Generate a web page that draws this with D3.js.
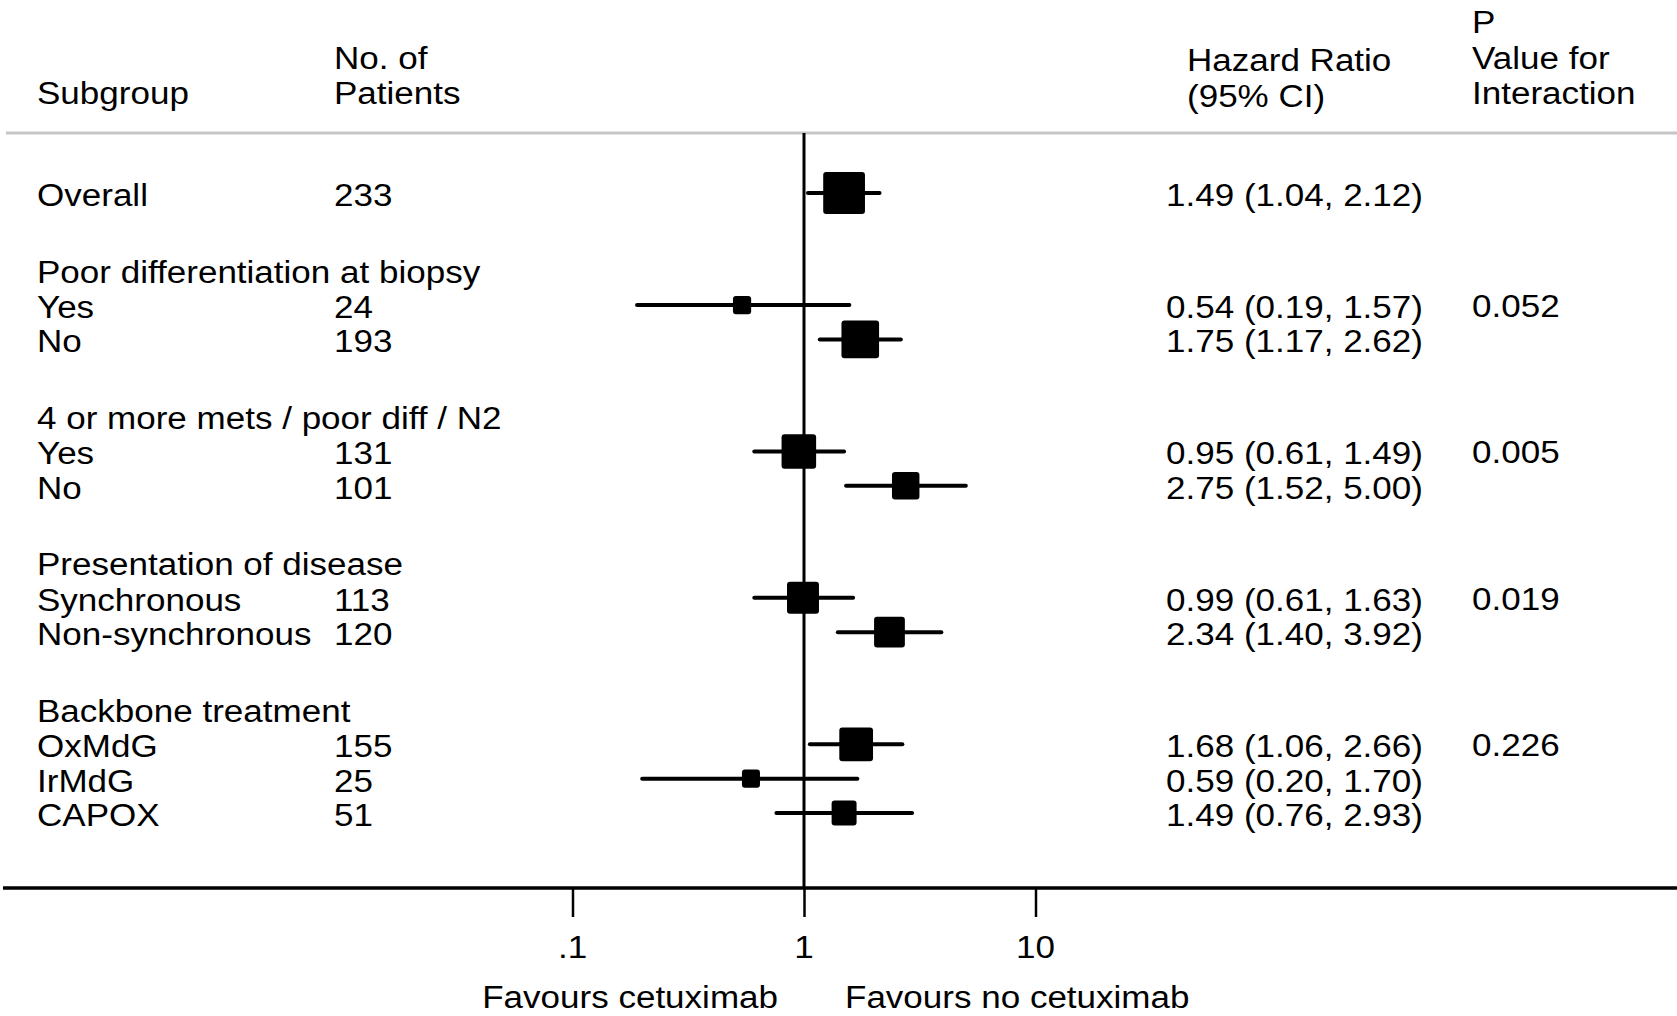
<!DOCTYPE html>
<html>
<head>
<meta charset="utf-8">
<script src="https://cdn.jsdelivr.net/npm/d3@7"></script>
<style>
  body { margin: 0; background: #fff; overflow: hidden; }
  svg { display: block; }
  svg text { font-family: "Liberation Sans", Arial, sans-serif; font-size: 31px; fill: #000; }
</style>
</head>
<body>
<svg id="chart"></svg>
<script>
// data
const groupNames = ['', 'Poor differentiation at biopsy', '4 or more mets / poor diff / N2', 'Presentation of disease', 'Backbone treatment'];
const groupP = ['', '0.052', '0.005', '0.019', '0.226'];
const subgroups = ['Overall', 'Yes', 'No', 'Yes', 'No', 'Synchronous', 'Non-synchronous', 'OxMdG', 'IrMdG', 'CAPOX'];
const groupOf = [0, 1, 1, 2, 2, 3, 3, 4, 4, 4];
const patients = [233, 24, 193, 131, 101, 113, 120, 155, 25, 51];
const hazardRatio = [1.49, 0.54, 1.75, 0.95, 2.75, 0.99, 2.34, 1.68, 0.59, 1.49];
const ciLower = [1.04, 0.19, 1.17, 0.61, 1.52, 0.61, 1.40, 1.06, 0.20, 0.76];
const ciUpper = [2.12, 1.57, 2.62, 1.49, 5.00, 1.63, 3.92, 2.66, 1.70, 2.93];
const xTicks = [0.1, 1, 10];
const xTickLabels = ['.1', '1', '10'];

const width = 1677, height = 1016;
const stretch = 1.13;   // glyphs in the original are a bit wider than tall
const col = {sub: 37, n: 334, hr: 1166, hrHead: 1187, p: 1472};

const svg = d3.select('#chart')
    .attr('width', width)
    .attr('height', height);

// row slots: one unit per row, a wider gap between groups
let u = 0;
const slots = [];
subgroups.forEach((s, i) => {
    if (i > 0) u += groupOf[i] !== groupOf[i - 1] ? 3.26 : 1;
    slots.push(u);
});

const yScale = d3.scaleLinear().domain([0, d3.max(slots)]).range([193, 813]);
const xScale = d3.scaleLog().domain([0.1, 10]).range([572.5, 1035.5]);
// box side grows with precision of the estimate (1 / SE of log HR)
const sizeScale = d3.scaleLinear().domain([0, 1]).range([6.2, 12.66]);
const precision = i => 2 * 1.96 / Math.log(ciUpper[i] / ciLower[i]);

function label(x, y, str, anchor) {
    svg.append('text')
        .attr('transform', `translate(${x},${y}) scale(${stretch},1)`)
        .attr('text-anchor', anchor || 'start')
        .text(str);
}

// column headers
label(col.sub, 104, 'Subgroup');
label(col.n, 69, 'No. of');
label(col.n, 104, 'Patients');
label(col.hrHead, 71, 'Hazard Ratio');
label(col.hrHead, 107, '(95% CI)');
label(col.p, 33, 'P');
label(col.p, 69, 'Value for');
label(col.p, 104, 'Interaction');

// grey rule under header
svg.append('line')
    .attr('x1', 6).attr('x2', width)
    .attr('y1', 133).attr('y2', 133)
    .attr('stroke', '#c6c6c6')
    .attr('stroke-width', 3);

// axis
const axisY = 888;
const xAxis = d3.axisBottom(xScale)
    .tickValues(xTicks)
    .tickFormat((d, i) => xTickLabels[i])
    .tickSize(29)
    .tickPadding(0);

const axisG = svg.append('g')
    .attr('transform', `translate(0,${axisY})`)
    .call(xAxis)
    .call(g => g.select('.domain').remove());
axisG.selectAll('.tick line').attr('stroke', '#000').attr('stroke-width', 2.5);
axisG.selectAll('.tick text').remove();
xTicks.forEach((t, i) => label(xScale(t), 958, xTickLabels[i], 'middle'));

svg.append('line')
    .attr('x1', 3).attr('x2', width)
    .attr('y1', axisY).attr('y2', axisY)
    .attr('stroke', '#000')
    .attr('stroke-width', 3.5);

// line of no effect
svg.append('line')
    .attr('x1', xScale(1)).attr('x2', xScale(1))
    .attr('y1', 133).attr('y2', axisY)
    .attr('stroke', '#000')
    .attr('stroke-width', 3);

label(xScale(1) - 26, 1008, 'Favours cetuximab', 'end');
label(xScale(1) + 41, 1008, 'Favours no cetuximab', 'start');

// group headers and p values
groupNames.forEach((name, g) => {
    if (!name) return;
    const first = groupOf.indexOf(g);
    label(col.sub, yScale(slots[first] - 1) + 12, name);
    label(col.p, yScale(slots[first]) + 12, groupP[g]);
});

// rows
const rows = subgroups.map((s, i) => ({i, s, y: yScale(slots[i])}));

rows.forEach(d => {
    label(col.sub, d.y + 13, d.s);
    label(col.n, d.y + 13, patients[d.i]);
    label(col.hr, d.y + 13,
        `${hazardRatio[d.i].toFixed(2)} (${ciLower[d.i].toFixed(2)}, ${ciUpper[d.i].toFixed(2)})`);
});

svg.selectAll('.ci')
    .data(rows)
    .join('line')
    .attr('class', 'ci')
    .attr('x1', d => xScale(ciLower[d.i]))
    .attr('x2', d => xScale(ciUpper[d.i]))
    .attr('y1', d => d.y)
    .attr('y2', d => d.y)
    .attr('stroke', '#000')
    .attr('stroke-width', 4)
    .attr('stroke-linecap', 'round');

svg.selectAll('.box')
    .data(rows)
    .join('rect')
    .attr('class', 'box')
    .attr('width', d => sizeScale(precision(d.i)))
    .attr('height', d => sizeScale(precision(d.i)))
    .attr('x', d => xScale(hazardRatio[d.i]) - sizeScale(precision(d.i)) / 2)
    .attr('y', d => d.y - sizeScale(precision(d.i)) / 2)
    .attr('rx', 3)
    .attr('fill', '#000');
</script>
</body>
</html>
